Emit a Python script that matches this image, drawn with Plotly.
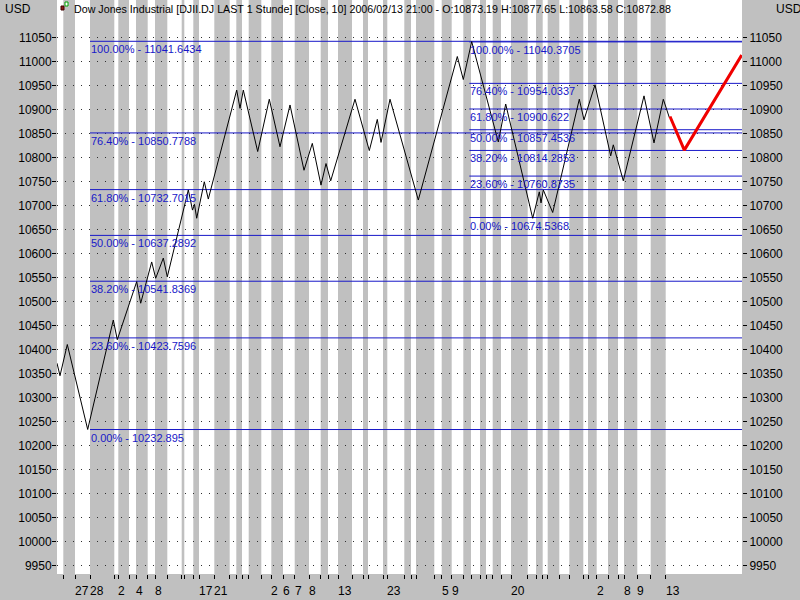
import plotly.graph_objects as go

# ---------------- data ----------------
# close line (bar index, price) turning points
line_x = [0, 3, 10.3, 30.7, 56.3, 60.3, 79.7, 83.7, 94.7, 98.7, 106.3, 110.3, 131.3, 135.5, 137.5,
          139.7, 147.3, 151.3, 179.7, 183, 186.3, 200.7, 212.3, 223, 233, 247, 255.3, 264, 269,
          273.7, 298, 312.3, 320.3, 324, 333, 361.3, 400.3, 406.3, 414.7, 441.3, 448.7, 475.7,
          482.3, 484, 486.3, 495.7, 522.3, 527, 538, 553.7, 556.3, 566.3, 587, 597, 606.3, 612.3]
line_y = [10371, 10345, 10410, 10233, 10461, 10420, 10541, 10496, 10582, 10548, 10590, 10551,
          10732, 10690, 10702, 10673, 10749, 10713, 10940, 10902, 10940, 10812, 10921, 10822,
          10909, 10773, 10829, 10742, 10787, 10751, 10921, 10814, 10879, 10831, 10921, 10711,
          11010, 10962, 11041, 10832, 10911, 10673, 10728, 10705, 10732, 10685, 10921, 10878,
          10951, 10803, 10826, 10751, 10928, 10830, 10921, 10883]

# projected path (red)
proj_x = [613, 627.3, 684.7]
proj_y = [10885, 10815, 11013]

# Fibonacci retracements
fib_pct = ["100.00%", "76.40%", "61.80%", "50.00%", "38.20%", "23.60%", "0.00%"]
fib1_start = 33
fib1_val = [11041.6434, 10850.7788, 10732.7015, 10637.2892, 10541.8369, 10423.7596, 10232.895]
fib2_start = 412.3
fib2_val = [11040.3705, 10954.0337, 10900.622, 10857.4536, 10814.2853, 10760.8735, 10674.5368]

# alternating day bands (grey) in bar index
day_bands = [(6.3, 18), (33, 57.3), (61.3, 72), (79, 90.7), (98, 110.3), (124.7, 127.3),
             (136.3, 142), (157.3, 172.7), (179.3, 185), (191.7, 204.3), (214.3, 226),
             (237.7, 252), (263.7, 271), (281, 295), (306, 311), (326, 330.3), (347.3, 354),
             (359, 377.3), (384.7, 394.7), (406.3, 414), (423, 429), (435.7, 444), (454, 470.7),
             (479, 485.7), (490.7, 502.3), (512.3, 526.3), (531, 539.7), (551, 561), (567, 580.3),
             (593.7, 608.7)]
day_label_x = [18, 33, 61.3, 79, 98, 142, 157.3, 214.3, 226, 237.7, 252, 281, 330.3, 384.7,
               394.7, 454, 539.7, 567, 580.3, 608.7]
day_labels = ["27", "28", "2", "4", "8", "17", "21", "2", "6", "7", "8", "13", "23", "5", "9",
              "20", "2", "8", "9", "13"]

price_ticks = list(range(9950, 11051, 50))
x_range = [0, 685]
y_range = [9931.9, 11127.7]

title_text = ("Dow Jones Industrial [DJII.DJ LAST 1 Stunde] [Close, 10] 2006/02/13 21:00 - "
              "O:10873.19 H:10877.65 L:10863.58 C:10872.88")

# ---------------- figure ----------------
FONT = "Liberation Sans, Arial, sans-serif"
BLUE = "#1818c8"
GREY = "#c0c0c0"

fig = go.Figure()

fig.add_trace(go.Scatter(x=line_x, y=line_y, mode="lines",
                         line=dict(color="black", width=1), hoverinfo="skip"))
fig.add_trace(go.Scatter(x=proj_x, y=proj_y, mode="lines",
                         line=dict(color="#f00000", width=3), hoverinfo="skip"))
# invisible trace for right axis
fig.add_trace(go.Scatter(x=[x_range[0]], y=[price_ticks[0]], yaxis="y2", mode="markers",
                         marker=dict(opacity=0), hoverinfo="skip"))

shapes = []
for a, b in day_bands:
    shapes.append(dict(type="rect", xref="x", yref="paper", x0=a, x1=b, y0=0, y1=1,
                       fillcolor=GREY, line=dict(width=0), layer="below"))
annotations = []
for start, vals in ((fib1_start, fib1_val), (fib2_start, fib2_val)):
    for pct, v in zip(fib_pct, vals):
        shapes.append(dict(type="line", xref="x", yref="y", x0=start, x1=x_range[1], y0=v, y1=v,
                           line=dict(color=BLUE, width=1), layer="between"))
        annotations.append(dict(xref="x", yref="y", x=start, y=v, text=f"{pct} - {v}",
                                showarrow=False, xanchor="left", yanchor="top", xshift=-1,
                                yshift=0, font=dict(family=FONT, size=11, color=BLUE)))

for xv, t in zip(day_label_x, day_labels):
    annotations.append(dict(xref="x", yref="paper", x=xv, y=-17 / 574, text=t, showarrow=False,
                            xanchor="left", yanchor="middle", xshift=-2,
                            font=dict(family=FONT, size=12, color="black")))

annotations.append(dict(xref="paper", yref="paper", x=(72 - 57) / 685, y=1 - 8.5 / 574,
                        text=title_text, showarrow=False, xanchor="left", yanchor="middle",
                        font=dict(family=FONT, size=10.7, color="black")))
annotations.append(dict(xref="paper", yref="paper", x=(3 - 57) / 685, y=1 - 8.5 / 574,
                        text="USD", showarrow=False, xanchor="left", yanchor="middle",
                        font=dict(family=FONT, size=12, color="black")))
annotations.append(dict(xref="paper", yref="paper", x=(774 - 57) / 685, y=1 - 8.5 / 574,
                        text="USD", showarrow=False, xanchor="left", yanchor="middle",
                        font=dict(family=FONT, size=12, color="black")))

# small legend icon before the title
def px_rect(x0, y0, x1, y1, fill, edge):
    return dict(type="rect", xref="paper", yref="paper",
                x0=(x0 - 57) / 685, x1=(x1 - 57) / 685, y0=1 - y1 / 574, y1=1 - y0 / 574,
                fillcolor=fill, line=dict(color=edge, width=1), layer="above")

shapes.append(px_rect(61, 6, 64, 10, "#8b1a1a", "#400000"))
shapes.append(px_rect(65, 2, 68, 6, "#ffffff", "#00a000"))

edges = sorted({e for band in day_bands for e in band})

fig.update_layout(
    width=800, height=600,
    margin=dict(l=57, r=58, t=0, b=26, pad=0),
    paper_bgcolor=GREY, plot_bgcolor="#ffffff",
    showlegend=False,
    font=dict(family=FONT, size=12, color="black"),
    shapes=shapes, annotations=annotations,
    xaxis=dict(range=x_range, tickmode="array", tickvals=edges, ticktext=[""] * len(edges),
               ticks="outside", ticklen=4, tickcolor="black", tickwidth=1,
               showgrid=False, zeroline=False, showline=False, fixedrange=True),
    yaxis=dict(range=y_range, tickmode="array", tickvals=price_ticks,
               ticktext=[str(v) for v in price_ticks],
               ticks="outside", ticklen=4, tickcolor="black", tickwidth=1,
               ticklabelstandoff=-2,
               showgrid=True, gridcolor="#303030", gridwidth=1, griddash="1px,7px",
               zeroline=False, showline=False, fixedrange=True,
               tickfont=dict(family=FONT, size=12, color="black")),
    yaxis2=dict(range=y_range, overlaying="y", side="right", tickmode="array",
                tickvals=price_ticks, ticktext=[str(v) for v in price_ticks],
                ticks="outside", ticklen=4, tickcolor="black", tickwidth=1,
                showgrid=False, zeroline=False, showline=False, fixedrange=True,
                tickfont=dict(family=FONT, size=12, color="black")),
)

fig.write_html("out.html", config={"displayModeBar": False},
               post_script="document.body.style.margin='0';")
